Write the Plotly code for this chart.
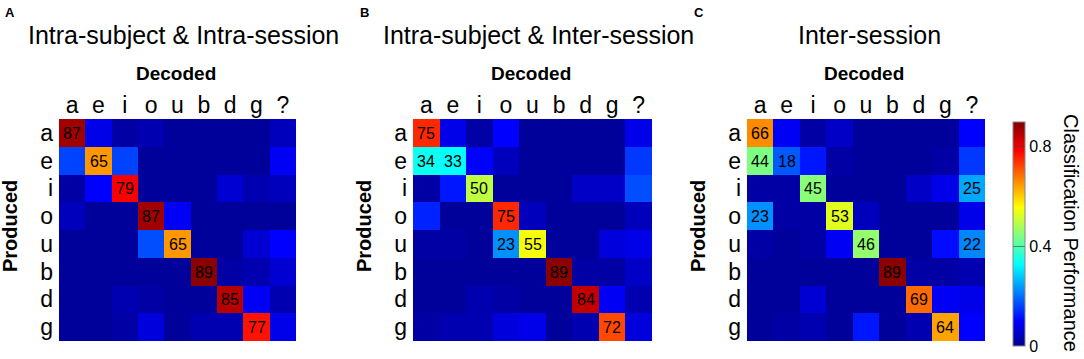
import plotly.graph_objects as go

W, H = 1084, 359

produced = ["a", "e", "i", "o", "u", "b", "d", "g"]
decoded = ["a", "e", "i", "o", "u", "b", "d", "g", "?"]

titles = ["Intra-subject & Intra-session", "Intra-subject & Inter-session", "Inter-session"]
panel_letters = ["A", "B", "C"]

conf_a = [
    [0.87, 0.08, 0.02, 0.03, 0.01, 0.01, 0.01, 0.01, 0.04],
    [0.16, 0.65, 0.16, 0.01, 0.01, 0.01, 0.01, 0.01, 0.09],
    [0.02, 0.10, 0.79, 0.01, 0.01, 0.01, 0.06, 0.03, 0.04],
    [0.04, 0.01, 0.01, 0.87, 0.09, 0.01, 0.01, 0.01, 0.01],
    [0.01, 0.01, 0.01, 0.17, 0.65, 0.01, 0.01, 0.06, 0.10],
    [0.01, 0.01, 0.01, 0.01, 0.01, 0.89, 0.02, 0.03, 0.06],
    [0.01, 0.01, 0.03, 0.02, 0.01, 0.01, 0.85, 0.09, 0.03],
    [0.01, 0.01, 0.02, 0.07, 0.01, 0.03, 0.03, 0.77, 0.08],
]
conf_b = [
    [0.75, 0.08, 0.02, 0.10, 0.01, 0.01, 0.01, 0.01, 0.08],
    [0.34, 0.33, 0.10, 0.04, 0.01, 0.01, 0.01, 0.01, 0.15],
    [0.02, 0.12, 0.50, 0.01, 0.01, 0.01, 0.05, 0.05, 0.17],
    [0.13, 0.01, 0.01, 0.75, 0.04, 0.01, 0.01, 0.01, 0.04],
    [0.02, 0.02, 0.01, 0.23, 0.55, 0.01, 0.01, 0.07, 0.08],
    [0.01, 0.01, 0.01, 0.01, 0.01, 0.89, 0.02, 0.02, 0.05],
    [0.01, 0.01, 0.03, 0.02, 0.01, 0.01, 0.84, 0.09, 0.03],
    [0.02, 0.03, 0.03, 0.07, 0.08, 0.01, 0.03, 0.72, 0.07],
]
conf_c = [
    [0.66, 0.09, 0.02, 0.05, 0.01, 0.01, 0.01, 0.01, 0.10],
    [0.44, 0.18, 0.12, 0.02, 0.01, 0.01, 0.01, 0.02, 0.15],
    [0.02, 0.02, 0.45, 0.01, 0.01, 0.01, 0.05, 0.08, 0.25],
    [0.23, 0.02, 0.02, 0.53, 0.04, 0.01, 0.01, 0.01, 0.08],
    [0.02, 0.01, 0.02, 0.09, 0.46, 0.01, 0.01, 0.11, 0.22],
    [0.01, 0.01, 0.01, 0.01, 0.01, 0.89, 0.02, 0.02, 0.03],
    [0.01, 0.01, 0.06, 0.01, 0.01, 0.01, 0.69, 0.09, 0.08],
    [0.01, 0.02, 0.03, 0.01, 0.12, 0.01, 0.03, 0.64, 0.10],
]
matrices = [conf_a, conf_b, conf_c]

label_threshold = 0.175

# pixel geometry of the three heatmaps (left, right) and shared top/bottom
panels_px = [(59, 296), (413, 652), (747, 985)]
top_px, bottom_px = 119, 341

jet = [
    [0.0, "rgb(0,0,143)"],
    [0.111, "rgb(0,0,255)"],
    [0.365, "rgb(0,255,255)"],
    [0.619, "rgb(255,255,0)"],
    [0.873, "rgb(255,0,0)"],
    [1.0, "rgb(128,0,0)"],
]

FONT = "Liberation Sans, Arial, Helvetica, sans-serif"


def px_x(x):
    return x / W


def px_y(y):
    return 1 - y / H


fig = go.Figure()
annotations = []
layout_axes = {}

for i, (mat, (l, r)) in enumerate(zip(matrices, panels_px)):
    n = "" if i == 0 else str(i + 1)
    text = [[(str(int(round(v * 100))) if v >= label_threshold else "") for v in row] for row in mat]
    fig.add_trace(go.Heatmap(
        z=mat, x=decoded, y=produced, text=text, texttemplate="%{text}",
        textfont=dict(size=16, color="black", family=FONT),
        coloraxis="coloraxis", xaxis="x" + n, yaxis="y" + n,
        hoverinfo="skip",
    ))
    layout_axes["xaxis" + n] = dict(
        domain=[px_x(l), px_x(r)], side="top", anchor="y" + n,
        showgrid=False, zeroline=False, ticks="", showline=False,
        tickmode="array", tickvals=decoded, ticktext=decoded,
        automargin=False,
        tickfont=dict(size=23, family=FONT, color="black"),
    )
    layout_axes["yaxis" + n] = dict(
        domain=[px_y(bottom_px), px_y(top_px)], anchor="x" + n,
        autorange="reversed", showgrid=False, zeroline=False, ticks="",
        tickmode="array", tickvals=produced, ticktext=produced,
        automargin=False, ticklabelstandoff=5,
        showline=False, tickfont=dict(size=23, family=FONT, color="black"),
    )
    cx = (l + r) / 2
    annotations.append(dict(
        text=titles[i], x=px_x(cx + (6 if i < 2 else 3)), y=px_y(35), xref="paper", yref="paper",
        showarrow=False, xanchor="center", yanchor="middle",
        font=dict(size=25, family=FONT, color="black"),
    ))
    annotations.append(dict(
        text="<b>Decoded</b>", x=px_x(cx - 2), y=px_y(73), xref="paper", yref="paper",
        showarrow=False, xanchor="center", yanchor="middle",
        font=dict(size=19, family=FONT, color="black"),
    ))
    annotations.append(dict(
        text="<b>Produced</b>", x=px_x(l - 49), y=px_y(226), xref="paper", yref="paper",
        showarrow=False, xanchor="center", yanchor="middle", textangle=-90,
        font=dict(size=20, family=FONT, color="black"),
    ))

letter_pos = [(10, 12), (364, 12), (699, 12)]
for letter, (x, y) in zip(panel_letters, letter_pos):
    annotations.append(dict(
        text="<b>" + letter + "</b>", x=px_x(x), y=px_y(y), xref="paper", yref="paper",
        showarrow=False, xanchor="center", yanchor="middle",
        font=dict(size=13, family=FONT, color="black"),
    ))

annotations.append(dict(
    text="Classification Performance", x=px_x(1071), y=px_y(233), xref="paper", yref="paper",
    showarrow=False, xanchor="center", yanchor="middle", textangle=90,
    font=dict(size=20, family=FONT, color="black"),
))

fig.update_layout(
    width=W, height=H,
    margin=dict(l=0, r=0, t=0, b=0, autoexpand=False),
    paper_bgcolor="white", plot_bgcolor="white",
    annotations=annotations,
    coloraxis=dict(
        colorscale=jet, cmin=0, cmax=0.9,
        colorbar=dict(
            x=px_x(1013), xanchor="left", xpad=0, ypad=0,
            y=px_y(234), yanchor="middle", len=224 / H, lenmode="fraction",
            thickness=12, outlinewidth=1, outlinecolor="#888",
            tickvals=[0, 0.4, 0.8], ticktext=["0", "0.4", "0.8"],
            ticks="inside", ticklen=12, tickcolor="rgba(60,60,60,0.6)",
            tickfont=dict(size=16, family=FONT, color="black"),
        ),
    ),
    showlegend=False,
    **layout_axes,
)

fig.write_html(
    "out.html",
    config={"displayModeBar": False},
    post_script="document.body.style.margin='0';document.body.style.overflow='hidden';",
)
